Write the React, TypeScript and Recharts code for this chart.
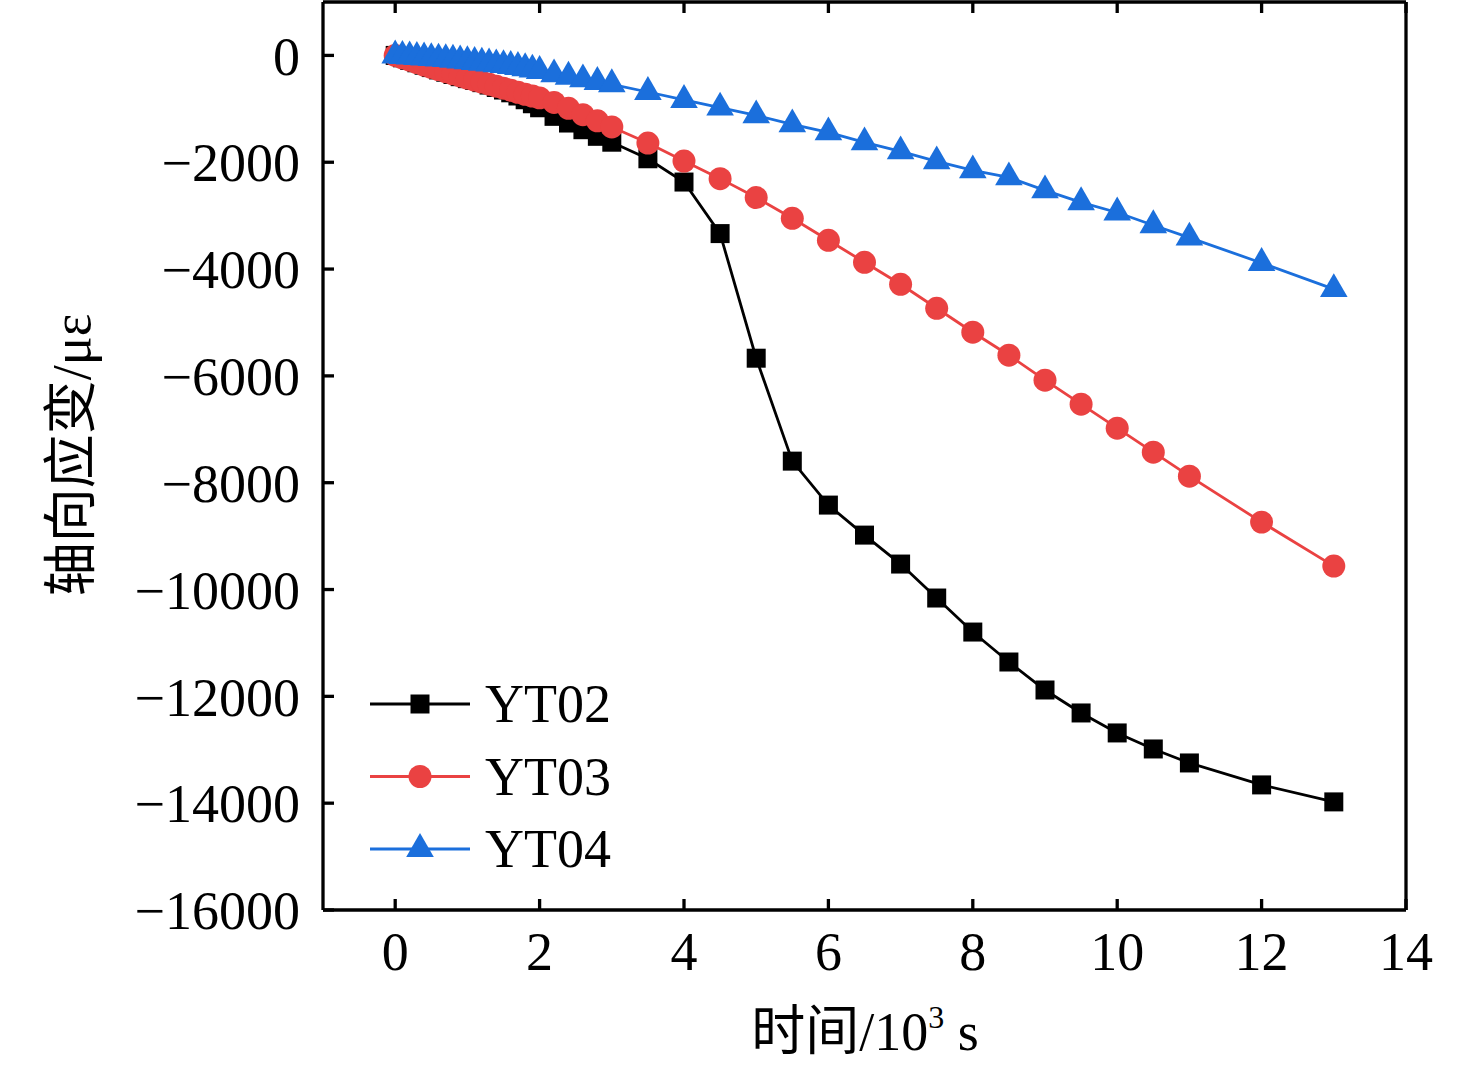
import React from 'react';
import { LineChart, Line, XAxis, YAxis, Symbols } from 'recharts';

const time = [0, 0.1, 0.2, 0.3, 0.4, 0.5, 0.6, 0.7, 0.8, 0.9, 1.0, 1.1, 1.2, 1.3, 1.4, 1.5, 1.6, 1.7, 1.8, 1.9, 2.0, 2.2, 2.4, 2.6, 2.8, 3.0, 3.5, 4.0, 4.5, 5.0, 5.5, 6.0, 6.5, 7.0, 7.5, 8.0, 8.5, 9.0, 9.5, 10.0, 10.5, 11.0, 12.0, 13.0];

const yt02 = [0, -45, -92, -138, -184, -228, -272, -315, -357, -398, -435, -470, -510, -555, -600, -648, -700, -760, -830, -905, -980, -1141, -1266, -1391, -1515, -1625, -1935, -2371, -3336, -5669, -7596, -8419, -8981, -9523, -10159, -10796, -11357, -11881, -12311, -12685, -12985, -13247, -13658, -13976];

const yt03 = [0, -45, -90, -135, -180, -222, -264, -305, -345, -385, -425, -462, -500, -538, -576, -614, -652, -690, -728, -760, -795, -880, -990, -1110, -1225, -1340, -1640, -1977, -2307, -2662, -3050, -3461, -3873, -4285, -4734, -5183, -5613, -6081, -6530, -6979, -7428, -7877, -8738, -9561];

const yt04 = [0, -10, -20, -30, -40, -50, -60, -70, -82, -95, -108, -122, -137, -152, -167, -182, -198, -218, -240, -265, -292, -354, -399, -448, -498, -541, -685, -834, -977, -1123, -1291, -1441, -1628, -1796, -1983, -2152, -2283, -2526, -2750, -2941, -3179, -3411, -3886, -4376];

const xTicks = [0, 2, 4, 6, 8, 10, 12, 14];
const yTicks = [-16000, -14000, -12000, -10000, -8000, -6000, -4000, -2000, 0];

const seriesNames = ['YT02', 'YT03', 'YT04'];
const seriesColors = ['#000000', '#EA4242', '#1B6FDC'];
const seriesShapes = ['square', 'circle', 'triangle'];
const seriesSizes = [361, 415, 330];

const data = time.map((t, i) => ({ t, YT02: yt02[i], YT03: yt03[i], YT04: yt04[i] }));

const FONT = "'Liberation Serif', 'Times New Roman', 'Noto Sans CJK SC', serif";

const fmtY = (v: number) => (v < 0 ? '\u2212' + Math.abs(v) : String(v));

const makeDot = (type: any, size: number, color: string) => (props: any) => {
  const { cx, cy, index } = props;
  if (cx == null || cy == null) return <g key={`e-${index}`} />;
  return <Symbols key={`d-${type}-${index}`} cx={cx} cy={cy} type={type} size={size} fill={color} stroke="none" />;
};

const axisStroke = { stroke: '#000', strokeWidth: 3.3 };

export default function App() {
  return (
    <div style={{ position: 'absolute', left: 0, top: 0, width: 1476, height: 1068, background: '#fff' }}>
      <LineChart
        width={1476}
        height={1068}
        data={data}
        margin={{ top: 1, right: 69, bottom: 58, left: 23 }}
      >
        <XAxis
          type="number"
          dataKey="t"
          domain={[-1, 14]}
          ticks={xTicks}
          height={100}
          axisLine={axisStroke}
          tickLine={axisStroke}
          tickSize={-11}
          tickMargin={33}
          tick={{ fontFamily: FONT, fontSize: 54, fill: '#000' }}
          interval={0}
        />
        <XAxis
          xAxisId="top"
          orientation="top"
          type="number"
          dataKey="t"
          domain={[-1, 14]}
          ticks={xTicks}
          height={1}
          axisLine={axisStroke}
          tickLine={axisStroke}
          tickSize={-11}
          tickFormatter={() => ''}
          interval={0}
        />
        <YAxis
          type="number"
          domain={[-16000, 1000]}
          ticks={yTicks}
          width={300}
          axisLine={axisStroke}
          tickLine={axisStroke}
          tickSize={-11}
          tickMargin={34}
          tickFormatter={fmtY}
          tick={{ fontFamily: FONT, fontSize: 54, fill: '#000' }}
          interval={0}
        />
        <YAxis
          yAxisId="right"
          orientation="right"
          type="number"
          domain={[-16000, 1000]}
          ticks={yTicks}
          width={1}
          axisLine={axisStroke}
          tickLine={axisStroke}
          tickSize={-11}
          tickFormatter={() => ''}
          interval={0}
        />
        {seriesNames.map((name, i) => (
          <Line
            key={name}
            dataKey={name}
            stroke={seriesColors[i]}
            strokeWidth={2.8}
            isAnimationActive={false}
            dot={makeDot(seriesShapes[i], seriesSizes[i], seriesColors[i])}
            activeDot={false}
          />
        ))}
      </LineChart>
      <svg
        width={1476}
        height={1068}
        style={{ position: 'absolute', left: 0, top: 0, pointerEvents: 'none' }}
      >
        <text
          x={72}
          y={455}
          transform="rotate(-90, 72, 455)"
          textAnchor="middle"
          dominantBaseline="central"
          fontFamily={FONT}
          fontSize={54}
          fill="#000"
        >
          轴向应变/με
        </text>
        <text x={865} y={1050} textAnchor="middle" fontFamily={FONT} fontSize={54} fill="#000">
          时间/10<tspan fontSize={32} dy={-22}>3</tspan><tspan dy={22}> s</tspan>
        </text>
        {seriesNames.map((name, i) => {
          const cy = 704 + i * 72.5;
          return (
            <g key={name}>
              <line x1={370} x2={470} y1={cy} y2={cy} stroke={seriesColors[i]} strokeWidth={2.8} />
              <Symbols cx={420} cy={cy} type={seriesShapes[i] as any} size={seriesSizes[i]} fill={seriesColors[i]} />
              <text x={485} y={cy} dominantBaseline="central" fontFamily={FONT} fontSize={54} fill="#000">
                {name}
              </text>
            </g>
          );
        })}
      </svg>
    </div>
  );
}
